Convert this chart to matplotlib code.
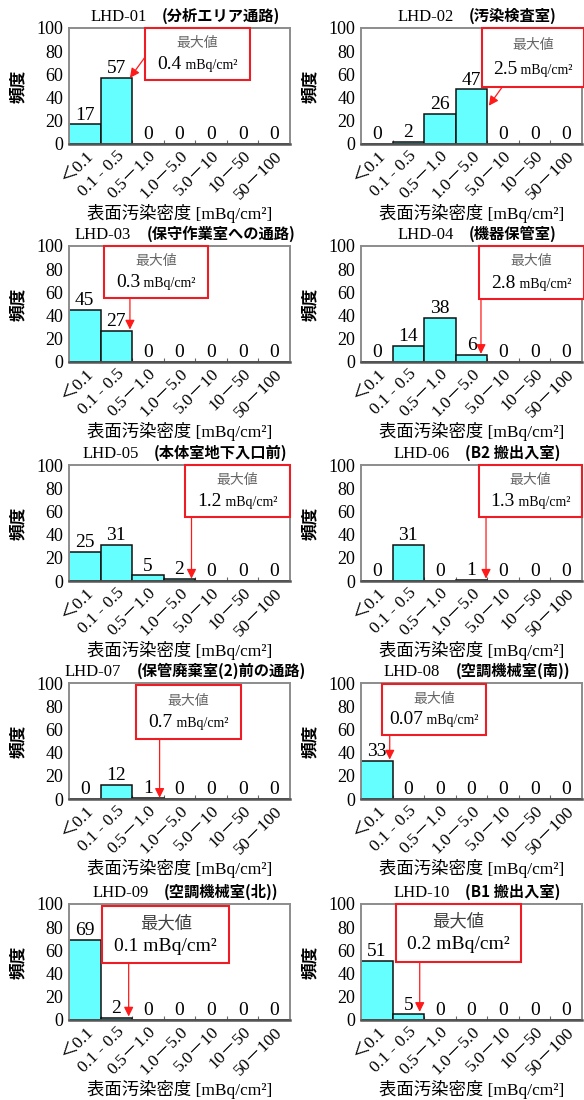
import numpy as np
import matplotlib
matplotlib.use("Agg")
import matplotlib.pyplot as plt
from matplotlib.patches import Rectangle
from matplotlib.offsetbox import AnnotationBbox, HPacker, TextArea

SERIF = "Liberation Serif"
CJK = "Noto Sans CJK JP"
MIXED = [SERIF, CJK]

# ---- data ----
categories = ["＜0.1", "0.1 - 0.5", "0.5－1.0", "1.0－5.0", "5.0－10", "10－50", "50－100"]

station_ids = ["LHD-01", "LHD-02", "LHD-03", "LHD-04", "LHD-05",
               "LHD-06", "LHD-07", "LHD-08", "LHD-09", "LHD-10"]
station_names = ["(分析エリア通路)", "(汚染検査室)", "(保守作業室への通路)", "(機器保管室)",
                 "(本体室地下入口前)", "(B2 搬出入室)", "(保管廃棄室(2)前の通路)",
                 "(空調機械室(南))", "(空調機械室(北))", "(B1 搬出入室)"]

counts_01 = [17, 57, 0, 0, 0, 0, 0]
counts_02 = [0, 2, 26, 47, 0, 0, 0]
counts_03 = [45, 27, 0, 0, 0, 0, 0]
counts_04 = [0, 14, 38, 6, 0, 0, 0]
counts_05 = [25, 31, 5, 2, 0, 0, 0]
counts_06 = [0, 31, 0, 1, 0, 0, 0]
counts_07 = [0, 12, 1, 0, 0, 0, 0]
counts_08 = [33, 0, 0, 0, 0, 0, 0]
counts_09 = [69, 2, 0, 0, 0, 0, 0]
counts_10 = [51, 5, 0, 0, 0, 0, 0]
all_counts = [counts_01, counts_02, counts_03, counts_04, counts_05,
              counts_06, counts_07, counts_08, counts_09, counts_10]

max_values = ["0.4", "2.5", "0.3", "2.8", "1.2", "1.3", "0.7", "0.07", "0.1", "0.2"]

# ---- callout layout: box (x0, x1, y0, y1), arrow start, arrow tip (data coords) ----
callouts = [
    ((1.91, 5.23, 55, 100), (1.91, 75), (1.43, 57)),
    ((3.33, 6.55, 49, 100), (3.97, 49), (3.55, 33)),
    ((0.61, 3.90, 55, 100), (1.43, 55), (1.43, 28)),
    ((3.23, 6.55, 54, 100), (3.30, 54), (3.30, 7)),
    ((3.16, 6.50, 55, 100), (3.38, 55), (3.38, 2)),
    ((3.24, 6.50, 55, 100), (3.46, 55), (3.46, 2)),
    ((1.61, 4.95, 52, 98), (2.37, 52), (2.37, 1)),
    ((0.16, 3.47, 55, 99), (0.41, 55), (0.41, 34)),
    ((0.55, 4.58, 49, 98), (1.39, 49), (1.39, 3)),
    ((0.60, 4.58, 50, 100), (1.36, 50), (1.36, 7)),
]
large_callout = [False] * 8 + [True, True]

W, H = 584, 1100
fig = plt.figure(figsize=(W / 100, H / 100), dpi=100)
fig.patch.set_facecolor("white")

col_left = [69, 361]
row_top = [28, 246, 465, 683, 904]
ax_w, ax_h = 221, 116

x = np.arange(len(categories))

for i in range(10):
    r, c = divmod(i, 2)
    l, t = col_left[c], row_top[r]
    ax = fig.add_axes([l / W, 1 - (t + ax_h) / H, ax_w / W, ax_h / H])
    vals = all_counts[i]

    ax.bar(x, vals, width=1.0, color="#66FFFF", edgecolor="#111111", linewidth=1.1, zorder=2)
    for xi, v in zip(x, vals):
        ax.annotate(str(v), (xi, v), xytext=(0, 0.5), textcoords="offset points",
                    ha="center", va="bottom", fontsize=14, family=SERIF, zorder=4)

    ax.set_xlim(-0.5, 6.5)
    ax.set_ylim(0, 100)
    ax.set_yticks(np.arange(0, 101, 20))
    ax.tick_params(axis="y", length=0, pad=4, labelsize=13)
    for lab in ax.get_yticklabels():
        lab.set_family(SERIF)

    # boundary ticks between classes, labels at class centres
    ax.set_xticks(np.arange(0.5, 6.0, 1.0))
    ax.set_xticklabels([])
    ax.tick_params(axis="x", which="major", direction="in", length=3, color="#666666")
    ax.set_xticks(x, minor=True)
    ax.set_xticklabels(categories, minor=True, rotation=45, ha="right",
                       rotation_mode="anchor", fontsize=12.5, family=MIXED)
    ax.tick_params(axis="x", which="minor", length=0, pad=3)

    for side in ["top", "right", "left"]:
        ax.spines[side].set_color("#8c8c8c")
        ax.spines[side].set_linewidth(1.4)
    ax.spines["bottom"].set_color("#555555")
    ax.spines["bottom"].set_linewidth(1.8)

    # title: station id in serif, location in gothic
    title = HPacker(children=[TextArea(station_ids[i], textprops=dict(family=SERIF, fontsize=12)),
                              TextArea(station_names[i],
                                       textprops=dict(family=CJK, fontsize=11, fontweight="bold"))],
                    align="baseline", pad=0, sep=11)
    ax.add_artist(AnnotationBbox(title, (0.5, 1.0), xycoords="axes fraction",
                                 xybox=(4, 2), boxcoords="offset points",
                                 box_alignment=(0.5, 0.0), frameon=False, pad=0))

    ax.set_ylabel("頻度", family=CJK, fontsize=12, fontweight="bold")
    ax.yaxis.set_label_coords(-42 / ax_w, 0.5)
    ax.annotate("表面汚染密度 [mBq/cm²]", (0.5, 0.0), xycoords="axes fraction",
                xytext=(0, -50), textcoords="offset points", ha="center", va="center",
                fontsize=12.5, family=MIXED)

    # maximum value callout
    (bx0, bx1, by0, by1), a_start, a_tip = callouts[i]
    ax.add_patch(Rectangle((bx0, by0), bx1 - bx0, by1 - by0, facecolor="white",
                           edgecolor="#EE1C25", linewidth=1.5, zorder=5, clip_on=False))
    bcx = (bx0 + bx1) / 2
    bh = by1 - by0
    if large_callout[i]:
        ax.text(bcx, by1 - 0.30 * bh, "最大値", ha="center", va="center",
                family=CJK, fontsize=12.5, color="#404040", zorder=6)
        val = TextArea(max_values[i] + " mBq/cm²", textprops=dict(family=SERIF, fontsize=14))
    else:
        ax.text(bcx, by1 - 0.29 * bh, "最大値", ha="center", va="center",
                family=CJK, fontsize=10, color="#666666", zorder=6)
        val = HPacker(children=[TextArea(max_values[i], textprops=dict(family=SERIF, fontsize=14)),
                                TextArea(" mBq/cm²", textprops=dict(family=SERIF, fontsize=10))],
                      align="baseline", pad=0, sep=0)
    ab = AnnotationBbox(val, (bcx, by1 - 0.70 * bh), xycoords="data",
                        box_alignment=(0.5, 0.5), frameon=False, pad=0)
    ab.set_zorder(6)
    ax.add_artist(ab)
    ax.annotate("", xy=a_tip, xytext=a_start,
                arrowprops=dict(arrowstyle="-|>", color="#FF1A1A", lw=0.9,
                                mutation_scale=14, shrinkA=0, shrinkB=0),
                zorder=7)

fig.savefig("out.png", dpi=100, facecolor="white")
